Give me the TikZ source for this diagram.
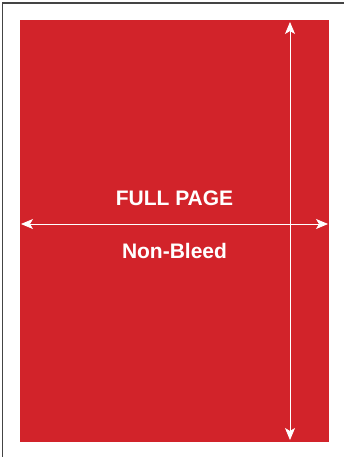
\documentclass[tikz,border=0pt]{standalone}
\usepackage{fontspec}
\setmainfont{Liberation Sans}
\usetikzlibrary{arrows.meta}
\definecolor{pagered}{HTML}{D2232A}
\definecolor{framegray}{HTML}{444444}
\tikzset{
  x=1pt, y=-1pt,
  dimtip/.tip={Stealth[length=12pt,width=10pt,inset=3pt]},
  dim/.style={white, line width=0.8pt, dimtip-dimtip},
  label/.style={white, font=\fontsize{21}{25}\selectfont\bfseries, anchor=base}
}
\begin{document}
\begin{tikzpicture}
\useasboundingbox (0,0) rectangle (344,457);
\fill[white] (0,0) rectangle (344,457);
\draw[framegray, line width=1.6pt] (2.5,457) -- (2.5,3) -- (344,3);
\fill[pagered] (20,20) rectangle (329,442);
\coordinate (vt) at (290,22);
\coordinate (vb) at (290,440);
\coordinate (hl) at (21,224);
\coordinate (hr) at (328,224);
\draw[dim] (vt) -- (vb);
\draw[dim] (hl) -- (hr);
\node[label] (title) at (174.5,205) {FULL PAGE};
\node[label] (sub) at (174.5,258) {Non-Bleed};
\end{tikzpicture}
\end{document}
